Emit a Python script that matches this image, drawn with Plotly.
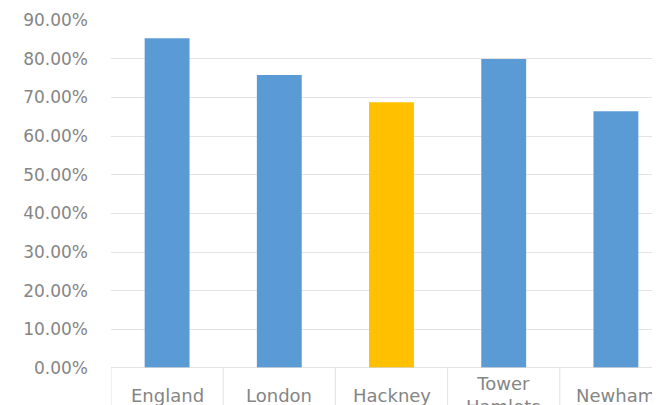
import plotly.graph_objects as go

categories = ["England", "London", "Hackney", "Tower<br>Hamlets", "Newham"]
values = [0.853, 0.758, 0.687, 0.799, 0.664]
colors = ["#5b9bd5", "#5b9bd5", "#ffc000", "#5b9bd5", "#5b9bd5"]
y_ticks = [0, 0.1, 0.2, 0.3, 0.4, 0.5, 0.6, 0.7, 0.8, 0.9]

# the page body adds an 8px offset, so the figure is sized to fill the window
W, H = 652, 397
ml, mt, mb = 103, 12, 37
plot_h = H - mt - mb

fig = go.Figure()
fig.add_trace(go.Bar(
    x=list(range(len(categories))), y=values,
    marker=dict(color=colors, line=dict(width=0)),
    width=0.4, showlegend=False, hoverinfo="skip",
))

cat_w = 112.2
span = (W - ml) / cat_w

fig.update_xaxes(
    range=[-0.5, -0.5 + span], showticklabels=False, showgrid=False,
    zeroline=False, showline=False, fixedrange=True,
)
fig.update_yaxes(
    range=[0, 0.9], tickvals=y_ticks, tickformat=".2%",
    showgrid=True, gridcolor="#e3e3e3", gridwidth=1,
    zeroline=False, showline=False, ticklabelstandoff=22,
    tickfont=dict(family="DejaVu Sans", size=17, color="#858585"),
)

# axis line and category box separators
fig.add_shape(type="line", xref="paper", yref="y", x0=0, x1=1, y0=0, y1=0,
              line=dict(color="#d9d9d9", width=1.5))
for i in range(len(categories)):
    fig.add_shape(type="line", xref="x", yref="paper", x0=i - 0.5, x1=i - 0.5,
                  y0=0, y1=-(mb + 5) / plot_h,
                  line=dict(color="#e3e3e3", width=1))

label_y = -(387 - (mt + plot_h)) / plot_h
for i, c in enumerate(categories):
    fig.add_annotation(x=i, y=label_y, xref="x", yref="paper", text=c,
                       showarrow=False, yanchor="middle", xanchor="center",
                       font=dict(family="DejaVu Sans", size=18, color="#858585"))

fig.update_layout(
    width=W, height=H,
    margin=dict(l=ml, r=0, t=mt, b=mb, autoexpand=False),
    paper_bgcolor="white", plot_bgcolor="white",
)
fig.write_html("out.html")
